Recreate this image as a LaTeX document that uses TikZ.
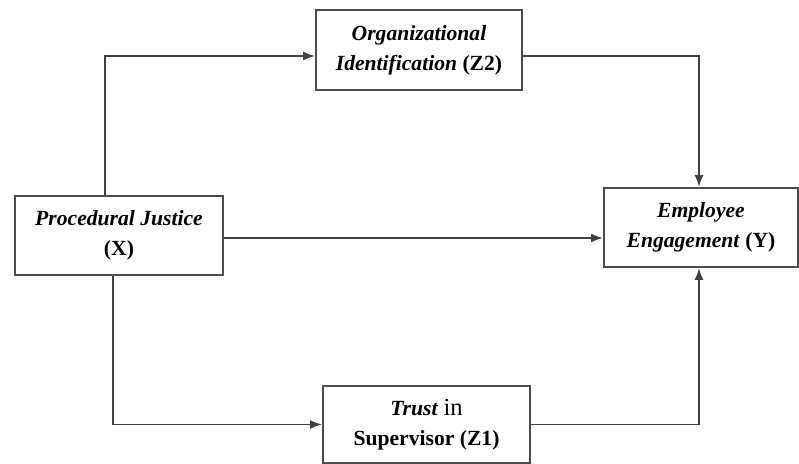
\documentclass[tikz,border=0pt]{standalone}
\usepackage{fontspec}
\setmainfont{Liberation Serif}
\usetikzlibrary{positioning, calc, arrows.meta}

\tikzset{
    varbox/.style={draw=black!70, line width=1.1pt, align=center,
        inner sep=0pt, font=\fontsize{12.3}{17}\selectfont\bfseries},
    arr/.style={draw=black!75, line width=1pt, -{Latex[length=2.4mm,width=1.8mm]}}
}

\begin{document}
\begin{tikzpicture}
        % picture frame
        \useasboundingbox (0,0) rectangle (15.98,9.28);

        % the variables
        \node[varbox, minimum width=4.12cm, minimum height=1.6cm]  (Z2) at (8.38,8.28)
            {\textit{Organizational}\\\textit{Identification} (Z2)};
        \node[varbox, minimum width=4.16cm, minimum height=1.58cm] (X)  at (2.38,4.57)
            {\textit{Procedural Justice}\\(X)};
        \node[varbox, minimum width=3.88cm, minimum height=1.58cm] (Y)  at (14.02,4.73)
            {\textit{Employee}\\\textit{Engagement} (Y)};
        \node[varbox, minimum width=4.14cm, minimum height=1.54cm] (Z1) at (8.53,0.79)
            {\textit{Trust} {\fontsize{14}{17}\selectfont\mdseries in}\\Supervisor (Z1)};

        % upper path
        \draw[arr] ([xshift=-0.28cm]X.north) |- ([yshift=-0.12cm]Z2.west);
        \draw[arr] ([yshift=-0.12cm]Z2.east) -| ([xshift=-0.04cm]Y.north);

        % direct path
        \draw[arr] ([yshift=-0.05cm]X.east) -- ([yshift=-0.21cm]Y.west);

        % lower path
        \draw[arr] ([xshift=-0.12cm]X.south) |- (Z1.west);
        \draw[arr] (Z1.east) -| ([xshift=-0.04cm]Y.south);
\end{tikzpicture}
\end{document}
